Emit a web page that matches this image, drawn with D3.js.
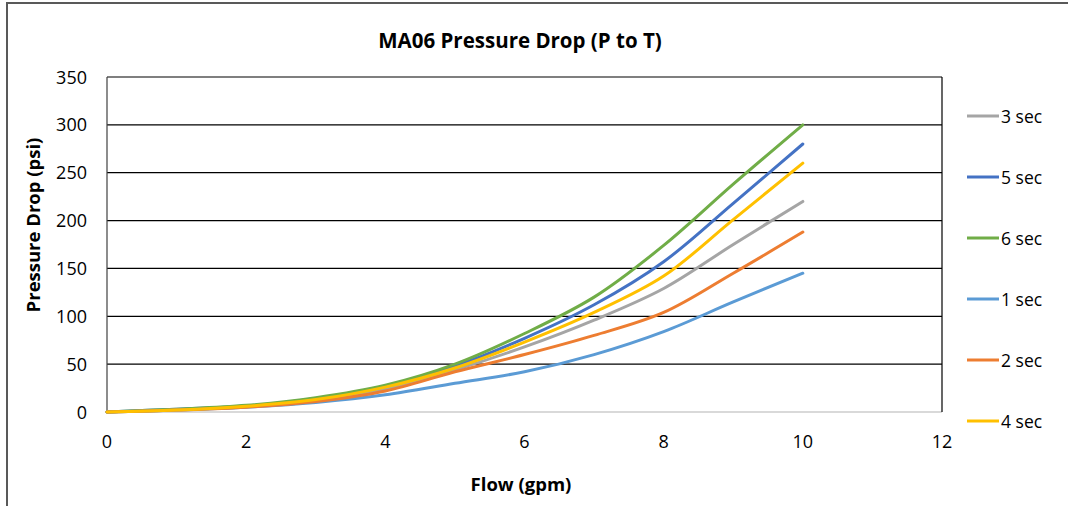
<!DOCTYPE html>
<html>
<head>
<meta charset="utf-8">
<script src="https://cdn.jsdelivr.net/npm/d3@7"></script>
<style>
  body { margin: 0; background: #fff; }
  text { font-family: "Open Sans", sans-serif; fill: #000; }
</style>
</head>
<body>
<svg id="chart" width="1068" height="506"></svg>
<script>
// flow points (gpm)
const flow = [0, 1, 2, 3, 4, 5, 6, 7, 8, 9, 10];

// pressure drop (psi) per series
const sec3 = [0, 2, 6, 12, 24, 44, 68, 96, 129, 175, 220];
const sec5 = [0, 3, 6, 14, 27, 48, 77, 112, 157, 218, 280];
const sec6 = [0, 3, 7, 15, 28, 50, 82, 120, 174, 238, 300];
const sec1 = [0, 2, 5, 10, 18, 30, 42, 60, 84, 115, 145];
const sec2 = [0, 2, 5, 11, 22, 42, 60, 80, 104, 145, 188];
const sec4 = [0, 2, 6, 13, 26, 46, 73, 104, 142, 201, 260];

const seriesNames = ["3 sec", "5 sec", "6 sec", "1 sec", "2 sec", "4 sec"];
const seriesData  = [sec3, sec5, sec6, sec1, sec2, sec4];
const seriesColors = ["#A5A5A5", "#4472C4", "#70AD47", "#5B9BD5", "#ED7D31", "#FFC000"];

const xTicks = [0, 2, 4, 6, 8, 10, 12];
const yTicks = [0, 50, 100, 150, 200, 250, 300, 350];

let svg = d3.select("#chart"),
    plotLeft = 107, plotRight = 942, plotTop = 77, plotBottom = 412,
    x = d3.scaleLinear().domain([0, 12]).range([plotLeft, plotRight]),
    y = d3.scaleLinear().domain([0, 350]).range([plotBottom, plotTop]);

// outer chart border (top and left edges visible)
svg.append("path")
  .attr("d", "M7,506V3H1068")
  .attr("fill", "none")
  .attr("stroke", "#595959")
  .attr("stroke-width", 2);

// title
svg.append("text")
  .attr("x", 520).attr("y", 48)
  .attr("text-anchor", "middle")
  .style("font-size", "20.5px")
  .style("font-weight", "bold")
  .text("MA06 Pressure Drop (P to T)");

// horizontal gridlines
svg.append("g")
  .selectAll("line")
  .data(yTicks.filter(d => d > 0))
  .enter().append("line")
  .attr("x1", plotLeft).attr("x2", plotRight)
  .attr("y1", d => y(d)).attr("y2", d => y(d))
  .attr("stroke", "#000")
  .attr("stroke-width", 1.2);

// x axis (light grey line) and labels
svg.append("line")
  .attr("x1", plotLeft).attr("x2", plotRight)
  .attr("y1", y(0)).attr("y2", y(0))
  .attr("stroke", "#d9d9d9")
  .attr("stroke-width", 2);

svg.append("g")
  .selectAll("text")
  .data(xTicks)
  .enter().append("text")
  .attr("x", d => x(d)).attr("y", 448)
  .attr("text-anchor", "middle")
  .style("font-size", "18px")
  .text(d => d);

// y axis line, right border and labels
svg.append("line")
  .attr("x1", plotLeft).attr("x2", plotLeft)
  .attr("y1", plotTop).attr("y2", plotBottom)
  .attr("stroke", "#404040")
  .attr("stroke-width", 1.2);

svg.append("line")
  .attr("x1", plotRight).attr("x2", plotRight)
  .attr("y1", plotTop).attr("y2", plotBottom)
  .attr("stroke", "#000")
  .attr("stroke-width", 1.2);

svg.append("g")
  .selectAll("text")
  .data(yTicks)
  .enter().append("text")
  .attr("x", 87).attr("y", d => y(d) + 6.5)
  .attr("text-anchor", "end")
  .style("font-size", "18px")
  .text(d => d);

// axis titles
svg.append("text")
  .attr("x", 521).attr("y", 491)
  .attr("text-anchor", "middle")
  .style("font-size", "18.5px")
  .style("font-weight", "bold")
  .text("Flow (gpm)");

svg.append("text")
  .attr("transform", "translate(40,225) rotate(-90)")
  .attr("text-anchor", "middle")
  .style("font-size", "18.5px")
  .style("font-weight", "bold")
  .text("Pressure Drop (psi)");

// series lines
let line = d3.line()
  .curve(d3.curveCatmullRom.alpha(0.5))
  .x((d, i) => x(flow[i]))
  .y(d => y(d));

svg.append("g")
  .selectAll("path")
  .data(seriesData)
  .enter().append("path")
  .attr("d", line)
  .attr("fill", "none")
  .attr("stroke", (d, i) => seriesColors[i])
  .attr("stroke-width", 3)
  .attr("stroke-linecap", "round");

// legend
let legend = svg.append("g")
  .selectAll("g")
  .data(seriesNames)
  .enter().append("g")
  .attr("transform", (d, i) => "translate(967," + (116 + i * 61) + ")");

legend.append("line")
  .attr("x1", 0).attr("x2", 32)
  .attr("stroke", (d, i) => seriesColors[i])
  .attr("stroke-width", 3);

legend.append("text")
  .attr("x", 34).attr("y", 6.5)
  .style("font-size", "17.5px")
  .text(d => d);
</script>
</body>
</html>
